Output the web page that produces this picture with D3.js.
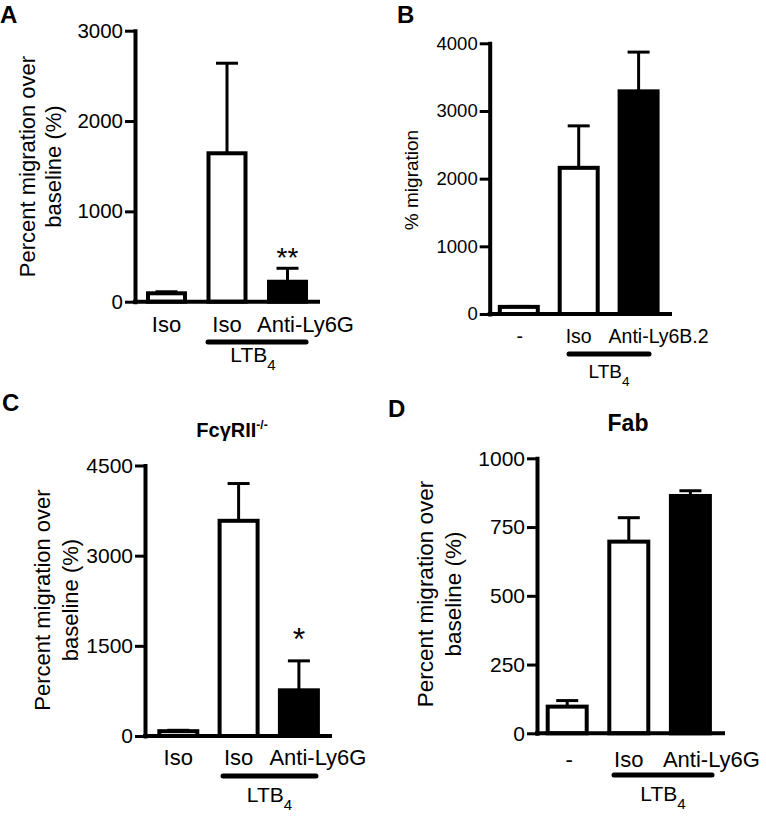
<!DOCTYPE html>
<html>
<head>
<meta charset="utf-8">
<script src="https://cdn.jsdelivr.net/npm/d3@7"></script>
<style>
  html, body { margin: 0; padding: 0; background: #fff; }
  svg { display: block; }
  text { font-family: "Liberation Sans", Arial, Helvetica, sans-serif; fill: #000; }
</style>
</head>
<body>
<svg id="chart" width="766" height="816"></svg>
<script>
// ---------- DATA ----------
// Panel A
const labelsA = ["Iso", "Iso", "Anti-Ly6G"];
const meanA = [93, 1643, 221];
const errA = [110, 2640, 370];
const ticksA = [0, 1000, 2000, 3000];
const starsA = ["", "", "**"];

// Panel B
const labelsB = ["-", "Iso", "Anti-Ly6B.2"];
const meanB = [105, 2160, 3290];
const errB = [112, 2780, 3870];
const ticksB = [0, 1000, 2000, 3000, 4000];
const starsB = ["", "", ""];

// Panel C
const labelsC = ["Iso", "Iso", "Anti-Ly6G"];
const meanC = [80, 3580, 760];
const errC = [95, 4200, 1250];
const ticksC = [0, 1500, 3000, 4500];
const starsC = ["", "", "*"];

// Panel D
const labelsD = ["-", "Iso", "Anti-Ly6G"];
const meanD = [97, 697, 863];
const errD = [119, 784, 882];
const ticksD = [0, 250, 500, 750, 1000];
const starsD = ["", "", ""];

const groupLabel = "LTB";
const groupSub = "4";

// ---------- LAYOUT ----------
const svg = d3.select("#chart");
const FONT = '"Liberation Sans", Arial, Helvetica, sans-serif';

function panel(cfg) {
  const g = svg.append("g");
  const n = cfg.mean.length;
  const idx = d3.range(n);
  const y = d3.scaleLinear().domain([0, cfg.yMax]).range([cfg.y0, cfg.yTop]);
  const p = 1 - cfg.bw / cfg.step;
  const x = d3.scaleBand().domain(idx)
    .range([cfg.c0 - cfg.step / 2, cfg.c0 + cfg.step * (n - 0.5)])
    .paddingInner(p).paddingOuter(p / 2);
  const cx = i => x(i) + x.bandwidth() / 2;

  // bars
  g.selectAll("rect.bar").data(idx).join("rect")
    .attr("class", "bar")
    .attr("x", i => x(i) + 2)
    .attr("width", x.bandwidth() - 4)
    .attr("y", i => y(cfg.mean[i]))
    .attr("height", i => y(0) - y(cfg.mean[i]))
    .attr("fill", i => i === n - 1 ? "#000" : "#fff")
    .attr("stroke", "#000")
    .attr("stroke-width", 4);

  // error bars (upper)
  g.selectAll("line.err").data(idx).join("line")
    .attr("class", "err")
    .attr("x1", cx).attr("x2", cx)
    .attr("y1", i => y(cfg.mean[i])).attr("y2", i => y(cfg.err[i]))
    .attr("stroke", "#000").attr("stroke-width", 3);
  g.selectAll("line.cap").data(idx).join("line")
    .attr("class", "cap")
    .attr("x1", i => cx(i) - 11).attr("x2", i => cx(i) + 11)
    .attr("y1", i => y(cfg.err[i])).attr("y2", i => y(cfg.err[i]))
    .attr("stroke", "#000").attr("stroke-width", 3);

  // y axis
  const ax = g.append("g").attr("transform", `translate(${cfg.axisX},0)`)
    .call(d3.axisLeft(y).tickValues(cfg.ticks).tickFormat(d3.format("d"))
      .tickSize(10).tickSizeOuter(0).tickPadding(2));
  ax.attr("font-size", null).attr("font-family", null);
  ax.select(".domain").attr("stroke", "#000").attr("stroke-width", 4).attr("stroke-linecap", "square");
  ax.selectAll(".tick line").attr("stroke", "#000").attr("stroke-width", 3);
  ax.selectAll(".tick text")
    .style("font-family", FONT).style("font-size", cfg.tickFont + "px").attr("fill", "#000");

  // x axis line
  g.append("line")
    .attr("x1", cfg.axisX).attr("x2", cfg.xEnd)
    .attr("y1", y(0)).attr("y2", y(0))
    .attr("stroke", "#000").attr("stroke-width", 4).attr("stroke-linecap", "square");

  // category labels
  g.selectAll("text.cat").data(idx).join("text")
    .attr("class", "cat")
    .attr("x", i => cx(i) + (cfg.labelShift[i] || 0))
    .attr("y", cfg.catY)
    .attr("text-anchor", "middle")
    .style("font-size", cfg.catFont + "px")
    .text(i => cfg.labels[i]);

  // stars
  g.selectAll("text.star").data(idx.filter(i => cfg.stars[i])).join("text")
    .attr("class", "star")
    .attr("x", cx)
    .attr("y", i => y(cfg.err[i]) - cfg.starGap)
    .attr("text-anchor", "middle")
    .style("font-size", cfg.starFont + "px")
    .text(i => cfg.stars[i]);

  // group line + LTB4
  g.append("line")
    .attr("x1", cfg.grpX1).attr("x2", cfg.grpX2)
    .attr("y1", cfg.grpY).attr("y2", cfg.grpY)
    .attr("stroke", "#000").attr("stroke-width", 5).attr("stroke-linecap", "round");
  const lt = g.append("text")
    .attr("x", (cfg.grpX1 + cfg.grpX2) / 2 + cfg.grpTextShift)
    .attr("y", cfg.grpTextY)
    .attr("text-anchor", "middle")
    .style("font-size", cfg.grpFont + "px");
  lt.append("tspan").text(groupLabel);
  lt.append("tspan").attr("dy", cfg.grpFont * 0.4).style("font-size", (cfg.grpFont * 0.72) + "px").text(groupSub);

  // y label
  const yl = g.append("text")
    .attr("transform", `translate(${cfg.ylX},${cfg.ylY}) rotate(-90)`)
    .attr("text-anchor", "middle")
    .style("font-size", cfg.ylFont + "px");
  cfg.ylLines.forEach((s, k) => {
    yl.append("tspan").attr("x", 0).attr("dy", k === 0 ? "0.35em" : cfg.ylGap).text(s);
  });

  // title
  if (cfg.title) {
    const t = g.append("text")
      .attr("x", cfg.titleX).attr("y", cfg.titleY)
      .attr("text-anchor", "middle")
      .style("font-size", cfg.titleFont + "px").style("font-weight", "bold");
    t.append("tspan").text(cfg.title);
    if (cfg.titleSup) {
      t.append("tspan").attr("dy", -cfg.titleFont * 0.4)
        .style("font-size", (cfg.titleFont * 0.6) + "px").text(cfg.titleSup);
    }
  }

  // panel letter
  g.append("text")
    .attr("x", cfg.letterX).attr("y", cfg.letterY)
    .style("font-size", "24px").style("font-weight", "bold")
    .text(cfg.letter);
}

panel({
  letter: "A", letterX: 0, letterY: 23,
  mean: meanA, err: errA, labels: labelsA, ticks: ticksA, stars: starsA,
  yMax: 3000, y0: 301.7, yTop: 30.7, axisX: 135, xEnd: 318,
  c0: 166.5, step: 60.5, bw: 41,
  tickFont: 20.5, catFont: 22, catY: 331.5, labelShift: [0, 0, 18],
  starFont: 28, starGap: 1,
  grpX1: 208, grpX2: 306, grpY: 342, grpTextY: 362, grpTextShift: -4, grpFont: 21,
  ylX: 27, ylY: 166.5, ylFont: 22, ylGap: 26, ylLines: ["Percent migration over", "baseline (%)"]
});

panel({
  letter: "B", letterX: 397, letterY: 23,
  mean: meanB, err: errB, labels: labelsB, ticks: ticksB, stars: starsB,
  yMax: 4000, y0: 314, yTop: 43.3, axisX: 489.7, xEnd: 670,
  c0: 518.8, step: 59.9, bw: 42,
  tickFont: 18.5, catFont: 19.5, catY: 343, labelShift: [1, 0, 20],
  starFont: 28, starGap: 1,
  grpX1: 569, grpX2: 649, grpY: 354, grpTextY: 378, grpTextShift: 0, grpFont: 19,
  ylX: 411, ylY: 180, ylFont: 19, ylGap: 0, ylLines: ["% migration"]
});

panel({
  letter: "C", letterX: 2, letterY: 411,
  mean: meanC, err: errC, labels: labelsC, ticks: ticksC, stars: starsC,
  yMax: 4500, y0: 736, yTop: 465.5, axisX: 145, xEnd: 330,
  c0: 178.3, step: 60.3, bw: 42,
  tickFont: 21, catFont: 22, catY: 765, labelShift: [0, 0, 19],
  starFont: 32, starGap: 11,
  grpX1: 223, grpX2: 316, grpY: 776, grpTextY: 802, grpTextShift: 0, grpFont: 21,
  ylX: 42, ylY: 600, ylFont: 22, ylGap: 28, ylLines: ["Percent migration over", "baseline (%)"],
  title: "FcγRII", titleSup: "-/-", titleX: 232, titleY: 437, titleFont: 20
});

panel({
  letter: "D", letterX: 388, letterY: 417,
  mean: meanD, err: errD, labels: labelsD, ticks: ticksD, stars: starsD,
  yMax: 1000, y0: 733.3, yTop: 458.3, axisX: 537, xEnd: 723,
  c0: 567.2, step: 61.6, bw: 43,
  tickFont: 21, catFont: 22, catY: 767, labelShift: [2, 0, 21],
  starFont: 28, starGap: 1,
  grpX1: 614, grpX2: 712, grpY: 775, grpTextY: 801, grpTextShift: 0, grpFont: 21,
  ylX: 425, ylY: 594, ylFont: 22.5, ylGap: 28, ylLines: ["Percent migration over", "baseline (%)"],
  title: "Fab", titleX: 628, titleY: 431, titleFont: 23
});
</script>
</body>
</html>
